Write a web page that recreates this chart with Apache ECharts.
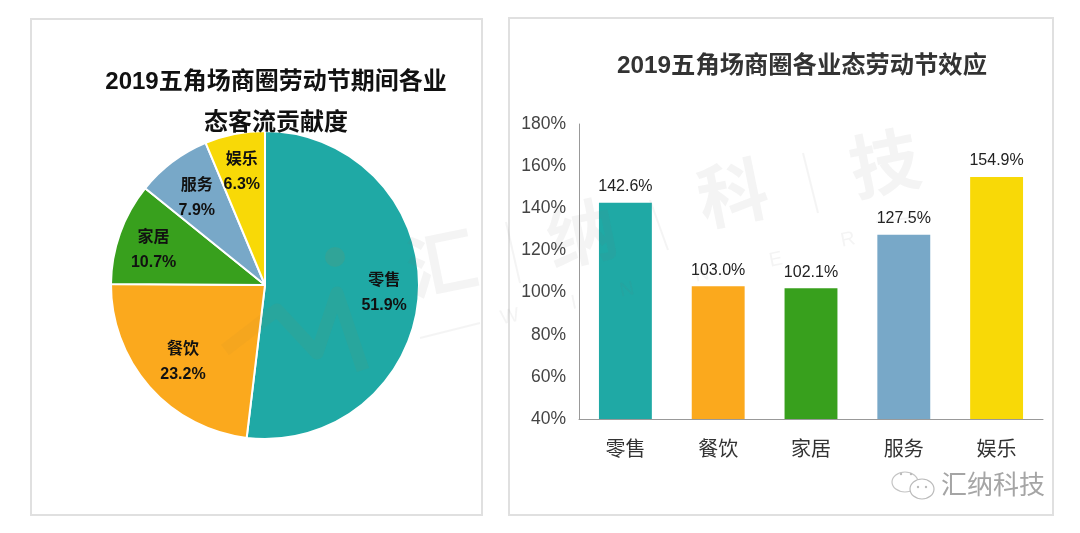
<!DOCTYPE html>
<html lang="zh-CN">
	<head>
		<meta charset="utf-8" />
		<title>2019五角场商圈劳动节</title>
		<style>
			html, body { margin: 0; padding: 0; background: #fff; }
		</style>
	</head>
	<body>
		<div id="main" style="width: 1080px;height: 533px"></div>

		<script src="https://cdn.jsdelivr.net/npm/echarts@6/dist/echarts.min.js"></script>
		<script type="text/javascript">
			const categories = ['零售', '餐饮', '家居', '服务', '娱乐'];
			const colors = ['#1fa9a5', '#fba91d', '#38a01d', '#78a8c8', '#f8d907'];
			const shareValues = [51.9, 23.2, 10.7, 7.9, 6.3];
			const effectValues = [142.6, 103.0, 102.1, 127.5, 154.9];
			const pieTitle = '2019五角场商圈劳动节期间各业\n态客流贡献度';
			const barTitle = '2019五角场商圈各业态劳动节效应';

			const fontFamily = '"Liberation Sans", "Noto Sans CJK SC", sans-serif';
			const pieCenter = [265, 285];
			// 饼图标签是手动摆放的，这里逐个微调
			const labelNudge = [[4, 3], [18, -15], [4, 17], [11, 14], [8, 6]];
			const markColor = 'rgba(110,110,110,0.08)';
			const myChart = echarts.init(document.getElementById('main'));

			const wmText = (text, x, y, fontSize, fontWeight) => ({
				type: 'text', x, y, rotation: 0.2, z: 20, silent: true,
				style: { text, fontSize, fontWeight, fontFamily, fill: markColor, align: 'center', verticalAlign: 'middle' },
			});
			const wmLine = (x1, y1, x2, y2) => ({
				type: 'line', z: 20, silent: true,
				shape: { x1, y1, x2, y2 },
				style: { stroke: markColor, lineWidth: 2 },
			});
			const watermark = [
				wmText('汇', 443, 270, 70, 'bold'),
				wmText('纳', 583, 240, 70, 'bold'),
				wmText('科', 734, 200, 70, 'bold'),
				wmText('技', 886, 170, 70, 'bold'),
				wmLine(506, 222, 520, 283),
				wmLine(650, 200, 668, 250),
				wmLine(803, 153, 818, 213),
				wmLine(420, 338, 480, 323),
				wmLine(876, 222, 927, 216),
				wmText('W', 510, 317, 20),
				wmText('I', 574, 303, 20),
				wmText('N', 627, 290, 20),
				wmText('N', 702, 275, 20),
				wmText('E', 776, 260, 20),
				wmText('R', 848, 240, 20),
				{
					type: 'polyline', z: 20, silent: true,
					shape: { points: [[225, 350], [277, 310], [317, 353], [337, 293], [363, 370]] },
					style: { fill: 'none', stroke: 'rgba(170,130,60,0.07)', lineWidth: 13, lineJoin: 'round' },
				},
				{ type: 'circle', z: 20, silent: true, shape: { cx: 335, cy: 257, r: 10 }, style: { fill: 'rgba(170,130,60,0.12)' } },
			];

			const wechatLogo = [
				{ type: 'ellipse', z: 20, shape: { cx: 905, cy: 482, rx: 13, ry: 10 }, style: { fill: '#fff', stroke: '#c4c4c4', lineWidth: 1.2 } },
				{ type: 'ellipse', z: 20, shape: { cx: 922, cy: 489, rx: 12, ry: 10 }, style: { fill: '#fff', stroke: '#bbb', lineWidth: 1.2 } },
				{ type: 'circle', z: 21, shape: { cx: 901, cy: 474, r: 1.2 }, style: { fill: '#bbb' } },
				{ type: 'circle', z: 21, shape: { cx: 911, cy: 474, r: 1.2 }, style: { fill: '#bbb' } },
				{ type: 'circle', z: 21, shape: { cx: 918, cy: 487, r: 1.2 }, style: { fill: '#bbb' } },
				{ type: 'circle', z: 21, shape: { cx: 926, cy: 487, r: 1.2 }, style: { fill: '#bbb' } },
			];

			const option = {
				animation: false,
				backgroundColor: '#fff',
				textStyle: { fontFamily },
				title: [
					{
						text: pieTitle,
						left: 271,
						top: 57,
						textAlign: 'center',
						textStyle: { fontSize: 24, fontWeight: 'bold', color: '#111', lineHeight: 41, fontFamily },
					},
					{
						text: barTitle,
						left: 797,
						top: 49,
						textAlign: 'center',
						textStyle: { fontSize: 24.3, fontWeight: 'bold', color: '#333', fontFamily },
					},
				],
				grid: { left: 579, right: 37, top: 124, bottom: 114 },
				xAxis: {
					type: 'category',
					data: categories,
					axisTick: { show: false },
					axisLine: { lineStyle: { color: '#999' } },
					axisLabel: { fontSize: 20, color: '#333', margin: 21, fontFamily },
				},
				yAxis: {
					type: 'value',
					min: 40,
					max: 180,
					interval: 20,
					splitLine: { show: false },
					axisTick: { show: false },
					axisLine: { show: true, lineStyle: { color: '#999' } },
					axisLabel: { formatter: '{value}%', fontSize: 17.5, color: '#444', margin: 13, fontFamily },
				},
				series: [
					{
						type: 'pie',
						center: pieCenter,
						radius: 154,
						startAngle: 90,
						clockwise: true,
						itemStyle: { borderColor: '#fff', borderWidth: 2 },
						label: {
							position: 'inside',
							formatter: p => `${p.name}\n${p.value.toFixed(1)}%`,
							fontSize: 16,
							fontWeight: 'bold',
							lineHeight: 25,
							color: '#111',
							fontFamily,
						},
						labelLayout: p => ({
							dx: (p.rect.x + p.rect.width / 2 - pieCenter[0]) * 0.52 + labelNudge[p.dataIndex][0],
							dy: (p.rect.y + p.rect.height / 2 - pieCenter[1]) * 0.52 + labelNudge[p.dataIndex][1],
						}),
						data: categories.map((name, i) => ({
							name,
							value: shareValues[i],
							itemStyle: { color: colors[i] },
						})),
					},
					{
						type: 'bar',
						barWidth: '57%',
						label: {
							show: true,
							position: 'top',
							distance: 8,
							formatter: p => `${p.value.toFixed(1)}%`,
							fontSize: 16,
							color: '#222',
							fontFamily,
						},
						data: effectValues.map((value, i) => ({
							value,
							itemStyle: { color: colors[i] },
						})),
					},
				],
				graphic: [
					{ type: 'rect', shape: { x: 31, y: 19, width: 451, height: 496 }, z: -1, style: { fill: '#fff', stroke: '#e0e0e0', lineWidth: 2 } },
					{ type: 'rect', shape: { x: 509, y: 18, width: 544, height: 497 }, z: -1, style: { fill: '#fff', stroke: '#e0e0e0', lineWidth: 2 } },
					...watermark,
					...wechatLogo,
					{
						type: 'text', x: 993, y: 487, z: 20,
						style: { text: '汇纳科技', fontSize: 26, fill: '#a5a5a5', align: 'center', verticalAlign: 'middle', fontFamily },
					},
				],
			};
			myChart.setOption(option);
		</script>
	</body>
</html>
